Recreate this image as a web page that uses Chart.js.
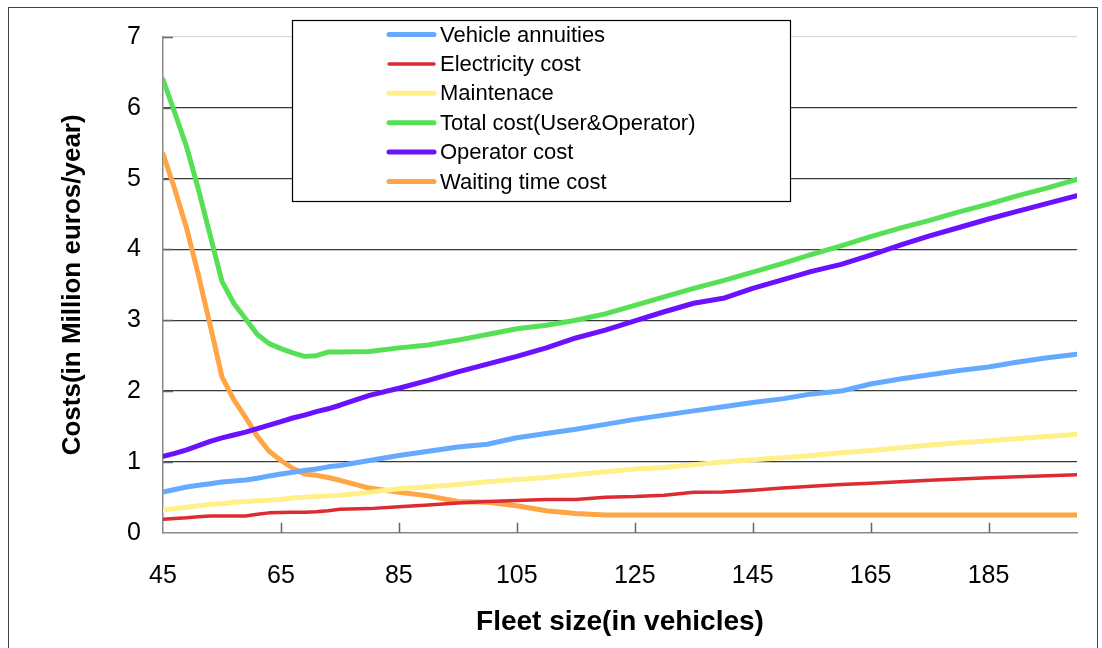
<!DOCTYPE html>
<html>
<head>
<meta charset="utf-8">
<script src="https://cdn.jsdelivr.net/npm/chart.js@4.4.1/dist/chart.umd.min.js"></script>
<style>
  html, body { margin: 0; padding: 0; background: #fff; }
  #wrap { width: 1102px; height: 648px; }
</style>
</head>
<body>
<div id="wrap"><canvas id="costChart" width="1102" height="648"></canvas></div>
<script>
// fleet sizes (vehicles) the values were read at
const fleet = [45, 47, 49, 51, 53, 55, 57, 59, 61, 63, 65, 67, 69, 71, 73, 75,
  80, 85, 90, 95, 100, 105, 110, 115, 120, 125, 130, 135, 140, 145, 150,
  155, 160, 165, 170, 175, 180, 185, 190, 195, 200];

const vehicleAnnuities = [0.575, 0.61, 0.645, 0.67, 0.69, 0.715, 0.73, 0.745, 0.77, 0.80, 0.83, 0.855, 0.88, 0.90, 0.93, 0.95,
  1.02, 1.09, 1.15, 1.21, 1.25, 1.34, 1.40, 1.46, 1.53, 1.60, 1.66, 1.72, 1.78, 1.84, 1.89,
  1.96, 2.00, 2.10, 2.17, 2.23, 2.29, 2.34, 2.41, 2.47, 2.52];

const electricityCost = [0.19, 0.20, 0.21, 0.225, 0.235, 0.235, 0.235, 0.235, 0.26, 0.28, 0.285, 0.29, 0.29, 0.295, 0.31, 0.33,
  0.34, 0.365, 0.39, 0.42, 0.44, 0.455, 0.47, 0.47, 0.50, 0.51, 0.53, 0.57, 0.575, 0.60, 0.63,
  0.655, 0.68, 0.70, 0.72, 0.74, 0.76, 0.775, 0.79, 0.805, 0.82];

const maintenance = [0.32, 0.34, 0.36, 0.38, 0.40, 0.41, 0.43, 0.44, 0.45, 0.46, 0.47, 0.49, 0.50, 0.51, 0.52, 0.53,
  0.57, 0.62, 0.65, 0.68, 0.72, 0.75, 0.78, 0.82, 0.86, 0.90, 0.92, 0.96, 1.00, 1.03, 1.06,
  1.09, 1.13, 1.16, 1.20, 1.24, 1.27, 1.30, 1.33, 1.36, 1.39];

const totalCost = [6.40, 5.93, 5.45, 4.85, 4.20, 3.55, 3.24, 3.02, 2.80, 2.67, 2.60, 2.54, 2.49, 2.50, 2.55, 2.55,
  2.56, 2.61, 2.65, 2.72, 2.80, 2.88, 2.93, 3.00, 3.09, 3.21, 3.33, 3.45, 3.56, 3.68, 3.80,
  3.93, 4.05, 4.18, 4.30, 4.41, 4.53, 4.64, 4.76, 4.87, 4.99];

const operatorCost = [1.08, 1.12, 1.17, 1.23, 1.29, 1.34, 1.38, 1.42, 1.47, 1.52, 1.57, 1.62, 1.66, 1.71, 1.75, 1.80,
  1.94, 2.04, 2.15, 2.27, 2.38, 2.49, 2.61, 2.75, 2.86, 2.99, 3.12, 3.24, 3.31, 3.45, 3.57,
  3.69, 3.79, 3.92, 4.06, 4.19, 4.31, 4.43, 4.54, 4.65, 4.76];

const waitingTimeCost = [5.35, 4.85, 4.30, 3.64, 2.93, 2.20, 1.88, 1.63, 1.36, 1.15, 1.02, 0.91, 0.83, 0.81, 0.78, 0.74,
  0.63, 0.57, 0.52, 0.44, 0.43, 0.38, 0.31, 0.27, 0.25, 0.25, 0.25, 0.25, 0.25, 0.25, 0.25,
  0.25, 0.25, 0.25, 0.25, 0.25, 0.25, 0.25, 0.25, 0.25, 0.25];

const xTickValues = [45, 65, 85, 105, 125, 145, 165, 185];

const FONT = '"Liberation Sans", Arial, sans-serif';

function series(label, data, color, width) {
  return {
    label, data,
    borderColor: color,
    backgroundColor: color,
    borderWidth: width,
    pointRadius: 0,
    tension: 0,
    borderCapStyle: 'round',
    borderJoinStyle: 'round',
    fill: false,
  };
}

// outer frame round the whole picture
const framePlugin = {
  id: 'frame',
  afterDraw(chart) {
    const ctx = chart.ctx;
    ctx.save();
    ctx.strokeStyle = '#444';
    ctx.lineWidth = 1;
    ctx.strokeRect(8.5, 7.5, 1089, 645);
    ctx.restore();
  }
};

// small inward tick marks like the original
const innerTicksPlugin = {
  id: 'innerTicks',
  beforeDatasetsDraw(chart) {
    const { ctx, scales: { x, y } } = chart;
    ctx.save();
    ctx.strokeStyle = '#666';
    ctx.lineWidth = 1.5;
    ctx.beginPath();
    xTickValues.slice(1).forEach(v => {
      const px = Math.round(x.getPixelForValue(v)) + 0.5;
      ctx.moveTo(px, y.bottom);
      ctx.lineTo(px, y.bottom - 10);
    });
    for (let v = 1; v <= 7; v++) {
      const py = Math.round(y.getPixelForValue(v)) + 0.5;
      ctx.moveTo(x.left, py);
      ctx.lineTo(x.left + 10, py);
    }
    ctx.stroke();
    ctx.restore();
  }
};

// boxed legend sitting inside the plot, as in the original
const boxLegendPlugin = {
  id: 'boxLegend',
  afterDatasetsDraw(chart) {
    const ctx = chart.ctx;
    const left = 292, top = 20, right = 790, bottom = 201;
    ctx.save();
    ctx.fillStyle = '#fff';
    ctx.fillRect(left, top, right - left, bottom - top);
    ctx.strokeStyle = '#000';
    ctx.lineWidth = 1.2;
    ctx.strokeRect(left + 0.5, top + 0.5, right - left, bottom - top);
    ctx.font = '22px ' + FONT;
    ctx.textBaseline = 'middle';
    ctx.textAlign = 'left';
    chart.data.datasets.forEach((ds, i) => {
      const yy = 34.5 + i * 29.4;
      ctx.strokeStyle = ds.borderColor;
      ctx.lineWidth = ds.borderWidth;
      ctx.lineCap = 'round';
      ctx.beginPath();
      ctx.moveTo(389, yy);
      ctx.lineTo(434, yy);
      ctx.stroke();
      ctx.fillStyle = '#000';
      ctx.fillText(ds.label, 440, yy + 1);
    });
    ctx.restore();
  }
};

new Chart(document.getElementById('costChart'), {
  type: 'line',
  data: {
    labels: fleet,
    datasets: [
      series('Vehicle annuities', vehicleAnnuities, '#66aaff', 5),
      series('Electricity cost', electricityCost, '#dd2b33', 3.5),
      series('Maintenace', maintenance, '#fff08a', 5),
      series('Total cost(User&Operator)', totalCost, '#55e055', 5),
      series('Operator cost', operatorCost, '#6a12ff', 5),
      series('Waiting time cost', waitingTimeCost, '#ffa545', 5),
    ],
  },
  options: {
    responsive: false,
    animation: false,
    events: [],
    layout: { padding: { top: 34, right: 25, left: 0, bottom: 0 } },
    plugins: {
      legend: { display: false },
      tooltip: { enabled: false },
    },
    scales: {
      x: {
        type: 'linear',
        min: 45,
        max: 200,
        afterBuildTicks(scale) {
          scale.ticks = xTickValues.map(v => ({ value: v }));
        },
        afterFit(scale) { scale.height = 115.3; },
        grid: { display: true, drawOnChartArea: false, drawTicks: false },
        border: { display: true, color: '#888', width: 1.5 },
        ticks: {
          color: '#000',
          padding: 28,
          maxRotation: 0,
          autoSkip: false,
          font: { family: FONT, size: 25 },
        },
        title: {
          display: true,
          text: 'Fleet size(in vehicles)',
          color: '#000',
          font: { family: FONT, size: 28, weight: 'bold' },
          padding: { top: 0, bottom: 9 },
        },
      },
      y: {
        min: 0,
        max: 7,
        afterFit(scale) { scale.width = 163; },
        ticks: {
          stepSize: 1,
          color: '#000',
          padding: 22,
          font: { family: FONT, size: 25 },
        },
        grid: {
          drawTicks: false,
          lineWidth: 1.2,
          color: ctx => {
            if (ctx.tick.value === 7) return '#d9d9d9';
            if (ctx.tick.value === 0) return 'rgba(0,0,0,0)';
            return '#3a3a3a';
          },
        },
        border: { display: true, color: '#888', width: 1.5 },
        title: {
          display: true,
          text: 'Costs(in Million euros/year)',
          color: '#000',
          font: { family: FONT, size: 26, weight: 'bold' },
          padding: { top: 57, bottom: 0 },
        },
      },
    },
  },
  plugins: [framePlugin, innerTicksPlugin, boxLegendPlugin],
});
</script>
</body>
</html>
